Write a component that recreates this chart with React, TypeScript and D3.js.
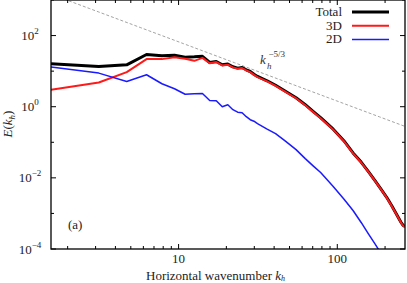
import React from 'react';
import * as d3 from 'd3';

// horizontal wavenumbers (k_h = n * pi/2) for the plotted samples
const kh = [
  1.571, 3.142, 4.712, 6.283, 7.854, 9.425, 10.996, 12.566, 14.137, 15.708,
  17.279, 18.850, 20.420, 21.991, 23.562, 25.133, 26.704, 28.274, 29.845, 31.416,
  36.128, 40.841, 47.124, 54.978, 62.832, 70.686, 78.540, 94.248, 109.956, 125.664,
  141.372, 157.080, 172.788, 188.496, 204.204, 219.911, 235.619, 251.327, 259.181, 267.035,
];

// log10 E(k_h)
const totalLog = [
  1.206, 1.130, 1.178, 1.467, 1.431, 1.445, 1.394, 1.403, 1.417, 1.243,
  1.271, 1.178, 1.198, 1.122, 1.085, 1.102, 1.038, 0.990, 0.912, 0.850,
  0.729, 0.603, 0.435, 0.252, 0.056, -0.140, -0.309, -0.631, -0.954, -1.299,
  -1.557, -1.823, -2.076, -2.314, -2.539, -2.777, -3.015, -3.240, -3.330, -3.366,
];
const threeDLog = [
  0.477, 0.682, 0.973, 1.338, 1.338, 1.389, 1.346, 1.290, 1.374, 1.220,
  1.255, 1.160, 1.182, 1.105, 1.068, 1.086, 1.022, 0.974, 0.896, 0.834,
  0.713, 0.588, 0.420, 0.238, 0.042, -0.154, -0.322, -0.644, -0.966, -1.311,
  -1.568, -1.834, -2.087, -2.325, -2.550, -2.788, -3.026, -3.251, -3.341, -3.377,
];
const twoDLog = [
  1.114, 0.945, 0.710, 0.898, 0.645, 0.505, 0.351, 0.365, 0.373, 0.177,
  0.168, 0.000, 0.056, -0.084, -0.154, -0.168, -0.281, -0.365, -0.407, -0.477,
  -0.631, -0.757, -0.968, -1.206, -1.459, -1.669, -1.851, -2.244, -2.595, -2.917,
  -3.254, -3.576, -3.857, -4.123, -4.376, -4.628, -4.853, -5.077, -5.180, -5.273,
];

const series = [
  { name: 'Total', values: totalLog, color: '#000000', width: 3 },
  { name: '3D', values: threeDLog, color: '#ff1a1a', width: 2 },
  { name: '2D', values: twoDLog, color: '#1a1aff', width: 1.5 },
];

const yLabelExps = ['2', '0', '−2', '−4'];
const yLabelVals = [1e2, 1e0, 1e-2, 1e-4];
const xLabelVals = [10, 100];

const W = 407, H = 283;
const left = 51, right = 405, top = 0, bottom = 249;
const font = '"Liberation Serif", "DejaVu Serif", serif';

export default function App() {
  const x = d3.scaleLog().domain([1.571, 267.035]).range([left, right]);
  const y = d3.scaleLog().domain([1e-4, 1e3]).range([bottom, top]);

  const line = d3.line<[number, number]>()
    .x((d) => x(d[0]))
    .y((d) => y(Math.pow(10, d[1])));

  // k^-5/3 reference slope
  const refC = 3097;
  const refK = d3.range(0, 41).map((i) => 1.9 * Math.pow(267 / 1.9, i / 40));
  const refLine = d3.line<number>().x((k) => x(k)).y((k) => y(refC * Math.pow(k, -5 / 3)));

  const yDecades = d3.range(-4, 4).map((e) => Math.pow(10, e));
  const xMinor: number[] = [];
  [1, 10, 100].forEach((d) => {
    for (let m = 1; m < 10; m++) {
      const v = d * m;
      if (v >= 1.571 && v <= 267) xMinor.push(v);
    }
  });

  return (
    <svg width={W} height={H} style={{ position: 'absolute', left: 0, top: 0, background: '#fff' }}
      fontFamily={font}>
      <defs>
        <clipPath id="plot">
          <rect x={left} y={top} width={right - left} height={bottom - top} />
        </clipPath>
      </defs>

      <g clipPath="url(#plot)">
        <path d={refLine(refK) || ''} fill="none" stroke="#999" strokeWidth={0.9} strokeDasharray="3,2" />
        {series.map((s) => (
          <path key={s.name}
            d={line(kh.map((k, i) => [k, s.values[i]] as [number, number])) || ''}
            fill="none" stroke={s.color} strokeWidth={s.width} strokeLinejoin="round" />
        ))}
      </g>

      {/* ticks */}
      {yDecades.map((v) => {
        const major = [1e2, 1e0, 1e-2, 1e-4].includes(v);
        const len = major ? 5 : 3;
        return (
          <g key={'y' + v} stroke="#000" strokeWidth={1}>
            <line x1={left} x2={left + len} y1={y(v)} y2={y(v)} />
            <line x1={right} x2={right - len} y1={y(v)} y2={y(v)} />
          </g>
        );
      })}
      {xMinor.map((v) => {
        const major = v === 10 || v === 100;
        const len = major ? 5 : 3;
        return (
          <g key={'x' + v} stroke="#000" strokeWidth={1}>
            <line x1={x(v)} x2={x(v)} y1={bottom} y2={bottom - len} />
            <line x1={x(v)} x2={x(v)} y1={top} y2={top + len} />
          </g>
        );
      })}

      <rect x={left} y={top} width={right - left} height={bottom - top} fill="none" stroke="#000" strokeWidth={1.3} />

      {/* y tick labels */}
      {yLabelVals.map((v, i) => (
        <text key={'yl' + i} x={30} y={y(v) + 4.5} fontSize={13} textAnchor="middle" fill="#222">
          10<tspan dy={-6} fontSize={9}>{yLabelExps[i]}</tspan>
        </text>
      ))}
      {/* x tick labels */}
      {xLabelVals.map((v) => (
        <text key={'xl' + v} x={x(v)} y={263} fontSize={13} textAnchor="middle" fill="#222">{v}</text>
      ))}

      {/* axis titles */}
      <text x={146} y={279.5} fontSize={13} fill="#222">
        Horizontal wavenumber <tspan fontStyle="italic">k</tspan>
        <tspan dy={1.5} fontSize={8} fontStyle="italic">h</tspan>
      </text>
      <text transform="translate(12,124) rotate(-90)" fontSize={13} textAnchor="middle" fill="#222">
        <tspan fontStyle="italic">E</tspan>(<tspan fontStyle="italic">k</tspan>
        <tspan dy={3} fontSize={9} fontStyle="italic">h</tspan><tspan dy={-3}>)</tspan>
      </text>

      {/* slope label */}
      <text x={260} y={64} fontSize={13} fontStyle="italic" fill="#333">k</text>
      <text x={267} y={68.5} fontSize={9} fontStyle="italic" fill="#333">h</text>
      <text x={268.5} y={57} fontSize={9} fill="#333">−5/3</text>

      <text x={68} y={229} fontSize={13} fill="#222">(a)</text>

      {/* legend */}
      {series.map((s, i) => (
        <g key={'lg' + s.name}>
          <text x={342} y={16 + i * 13.7} fontSize={13} textAnchor="end" fill="#222">{s.name}</text>
          <line x1={352} x2={389} y1={12 + i * 13.7} y2={12 + i * 13.7} stroke={s.color} strokeWidth={s.width} />
        </g>
      ))}
    </svg>
  );
}
